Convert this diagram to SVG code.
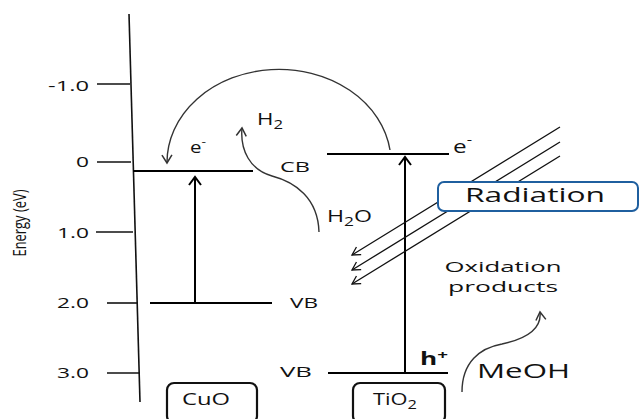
<svg xmlns="http://www.w3.org/2000/svg" width="640" height="419" viewBox="0 0 640 419">
<style>
text{font-family:"Open Sans","DejaVu Sans",sans-serif;fill:#111;}
.tick{font-size:15px;text-anchor:end;}
.lbl{font-size:15px;}
.lvl{stroke:#000;stroke-width:2;fill:none;}
.ax{stroke:#111;stroke-width:1.6;fill:none;}
.crv{stroke:#333;stroke-width:1.4;fill:none;}
.rad{stroke:#111;stroke-width:1.3;fill:none;}
.box{fill:#fff;stroke:#111;stroke-width:2.2;}
</style>
<defs>
<marker id="ah" viewBox="-10 -7 12 14" markerWidth="12" markerHeight="14" refX="0" refY="0" orient="auto" markerUnits="userSpaceOnUse">
<path d="M -8 -6 L 0 0 L -8 6" fill="none" stroke="#000" stroke-width="2"/>
</marker>
<marker id="ahs" viewBox="-10 -7 12 14" markerWidth="12" markerHeight="14" refX="0" refY="0" orient="auto" markerUnits="userSpaceOnUse">
<path d="M -8 -5 L 0 0 L -8 5" fill="none" stroke="#333" stroke-width="1.5"/>
</marker>
<marker id="ahr" viewBox="-10 -7 12 14" markerWidth="12" markerHeight="14" refX="0" refY="0" orient="auto" markerUnits="userSpaceOnUse">
<path d="M -8 -4.5 L 0 0 L -8 4.5" fill="none" stroke="#111" stroke-width="1.3"/>
</marker>
</defs>

<g id="axis">
<line class="ax" x1="129" y1="14" x2="140" y2="402"/>
<line class="ax" x1="97" y1="84" x2="130" y2="84"/>
<line class="ax" x1="97" y1="162" x2="131" y2="162"/>
<line class="ax" x1="96" y1="232" x2="133" y2="232"/>
<line class="ax" x1="107" y1="303" x2="138" y2="303"/>
<line class="ax" x1="107" y1="373" x2="140" y2="373"/>
<text class="tick" x="89" y="91" textLength="41" lengthAdjust="spacingAndGlyphs">-1.0</text>
<text class="tick" x="89" y="167" textLength="13" lengthAdjust="spacingAndGlyphs">0</text>
<text class="tick" x="89" y="238" textLength="32" lengthAdjust="spacingAndGlyphs">1.0</text>
<text class="tick" x="89" y="308" textLength="32" lengthAdjust="spacingAndGlyphs">2.0</text>
<text class="tick" x="89" y="378" textLength="32" lengthAdjust="spacingAndGlyphs">3.0</text>
<text x="0" y="0" transform="translate(26,223) rotate(-90)" text-anchor="middle" font-size="18" textLength="67" lengthAdjust="spacingAndGlyphs">Energy (eV)</text>
</g>

<g id="cuo-levels">
<line class="lvl" x1="133" y1="171" x2="253" y2="171"/>
<line class="lvl" x1="150" y1="303" x2="272" y2="303"/>
<text class="lbl" x="280" y="172" textLength="30" lengthAdjust="spacingAndGlyphs">CB</text>
<text class="lbl" x="290" y="308" textLength="28" lengthAdjust="spacingAndGlyphs">VB</text>
<text x="190" y="153" font-size="16" textLength="16" lengthAdjust="spacingAndGlyphs">e<tspan font-size="11" dy="-8">-</tspan></text>
</g>

<g id="tio2-levels">
<line class="lvl" x1="327" y1="154" x2="449" y2="154"/>
<line class="lvl" x1="328" y1="373" x2="448" y2="373"/>
<text class="lbl" x="280" y="377" textLength="32" lengthAdjust="spacingAndGlyphs">VB</text>
<text x="453" y="153" font-size="19" textLength="19" lengthAdjust="spacingAndGlyphs">e<tspan font-size="13" dy="-9">-</tspan></text>
<text x="420" y="365" font-size="18" font-weight="bold" textLength="28" lengthAdjust="spacingAndGlyphs">h<tspan font-size="13" dy="-6">+</tspan></text>
</g>

<g id="cuo-box">
<rect class="box" x="167" y="383" width="90" height="40" rx="7"/>
<text x="206" y="405" font-size="16" text-anchor="middle" textLength="48" lengthAdjust="spacingAndGlyphs">CuO</text>
</g>

<g id="tio2-box">
<rect class="box" x="353" y="383" width="92" height="40" rx="7"/>
<text x="373" y="405" font-size="16" textLength="44" lengthAdjust="spacingAndGlyphs">TiO<tspan font-size="12" dy="4">2</tspan></text>
</g>

<g id="species">
<text x="257" y="125" font-size="16" textLength="26" lengthAdjust="spacingAndGlyphs">H<tspan font-size="12" dy="4">2</tspan></text>
<text x="327" y="222" font-size="16" textLength="45" lengthAdjust="spacingAndGlyphs">H<tspan font-size="12" dy="4">2</tspan><tspan dy="-4">O</tspan></text>
<text x="503" y="272" font-size="15" text-anchor="middle" textLength="117" lengthAdjust="spacingAndGlyphs">Oxidation</text>
<text x="503" y="292" font-size="14" text-anchor="middle" textLength="110" lengthAdjust="spacingAndGlyphs">products</text>
<text x="477" y="378" font-size="20" textLength="93" lengthAdjust="spacingAndGlyphs">MeOH</text>
</g>

<g id="connectors">
<line class="lvl" x1="195" y1="302" x2="195" y2="177" stroke-width="2.4" marker-end="url(#ah)"/>
<line class="lvl" x1="405" y1="372" x2="405" y2="157" stroke-width="2.4" marker-end="url(#ah)"/>
<path class="crv" d="M 390 150 A 112 93 0 0 0 167 163" marker-end="url(#ahs)"/>
<path class="crv" d="M 319 232 C 318 198, 295 182, 272 176 C 250 170, 240 150, 242 128" marker-end="url(#ahs)"/>
<path class="crv" d="M 462 392 C 462 362, 480 348, 502 344 C 525 339, 542 330, 540 312" marker-end="url(#ahs)"/>
<line class="rad" x1="560" y1="127" x2="352" y2="255" marker-end="url(#ahr)"/>
<line class="rad" x1="560" y1="142" x2="352" y2="270" marker-end="url(#ahr)"/>
<line class="rad" x1="560" y1="156" x2="352" y2="284" marker-end="url(#ahr)"/>
</g>

<g id="radiation">
<rect x="438" y="182" width="200" height="29" rx="6" fill="#fff" stroke="#1f5f9f" stroke-width="2"/>
<text x="535" y="202" font-size="20" text-anchor="middle" textLength="140" lengthAdjust="spacingAndGlyphs">Radiation</text>
</g>
</svg>
